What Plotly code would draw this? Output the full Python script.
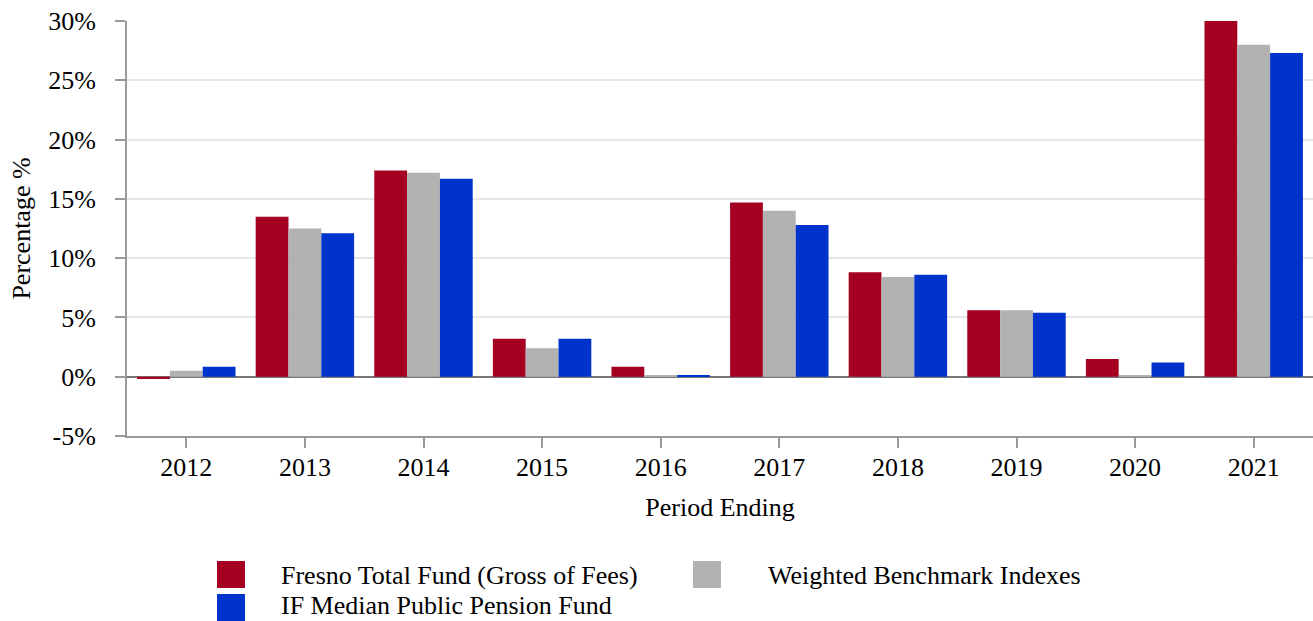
import plotly.graph_objects as go

years = ["2012", "2013", "2014", "2015", "2016", "2017", "2018", "2019", "2020", "2021"]
fresno = [-0.2, 13.5, 17.4, 3.2, 0.85, 14.7, 8.8, 5.6, 1.5, 30.0]
benchmark = [0.5, 12.5, 17.2, 2.4, 0.1, 14.0, 8.4, 5.6, 0.1, 28.0]
median = [0.85, 12.1, 16.7, 3.2, 0.15, 12.8, 8.6, 5.4, 1.2, 27.3]
series_names = ["Fresno Total Fund (Gross of Fees)", "Weighted Benchmark Indexes", "IF Median Public Pension Fund"]
series_colors = ["#A50021", "#B2B2B2", "#0033CC"]
y_ticks = [-5, 0, 5, 10, 15, 20, 25, 30]
y_labels = [f"{v}%" for v in y_ticks]

font = "Liberation Serif, Times New Roman, serif"
W, H = 1313, 621
L, R, T, B = 127, 0, 21, 185
pw, ph = W - L - R, H - T - B

def px_x(p):
    return (p - L) / pw

def px_y(p):
    return (H - B - p) / ph

fig = go.Figure()
for name, vals, col in zip(series_names, [fresno, benchmark, median], series_colors):
    fig.add_trace(go.Bar(x=years, y=vals, name=name, marker_color=col, marker_line_width=0))

# manual legend (large square swatches like the reference)
legend_pos = [(217, 561, 280, 575), (693, 561, 767, 575), (217, 594, 280, 605)]
for (sx, sy, tx, ty), name, col in zip(legend_pos, series_names, series_colors):
    fig.add_shape(type="rect", xref="paper", yref="paper",
                  x0=px_x(sx), x1=px_x(sx + 28), y0=px_y(sy), y1=px_y(sy + 27),
                  fillcolor=col, line_width=0)
    fig.add_annotation(xref="paper", yref="paper", x=px_x(tx), y=px_y(ty),
                       xanchor="left", yanchor="middle", text=name, showarrow=False,
                       borderpad=0, font=dict(size=26))

fig.update_layout(
    width=W, height=H,
    margin=dict(l=L, r=R, t=T, b=B),
    plot_bgcolor="white", paper_bgcolor="white",
    barmode="group", bargap=0.17, bargroupgap=0,
    font=dict(family=font, size=26, color="black"),
    showlegend=False,
)
fig.update_xaxes(
    title=dict(text="Period Ending", font=dict(size=26), standoff=17),
    showline=True, linecolor="#999999", linewidth=2,
    ticks="outside", ticklen=10, tickcolor="#999999", tickwidth=2,
    tickfont=dict(size=26), automargin=False, ticklabelstandoff=-3,
)
fig.update_yaxes(
    title=dict(text="Percentage %", font=dict(size=26), standoff=10),
    range=[-5, 30], tickvals=y_ticks, ticktext=y_labels,
    showline=True, linecolor="#999999", linewidth=2,
    ticks="outside", ticklen=10, tickcolor="#999999", tickwidth=2,
    showgrid=True, gridcolor="#E6E6E6", gridwidth=2,
    zeroline=True, zerolinecolor="#777777", zerolinewidth=2,
    tickfont=dict(size=26), automargin=False, ticklabelstandoff=14,
)
fig.write_html("out.html", config={"displayModeBar": False},
               post_script="document.body.style.margin='0';")
